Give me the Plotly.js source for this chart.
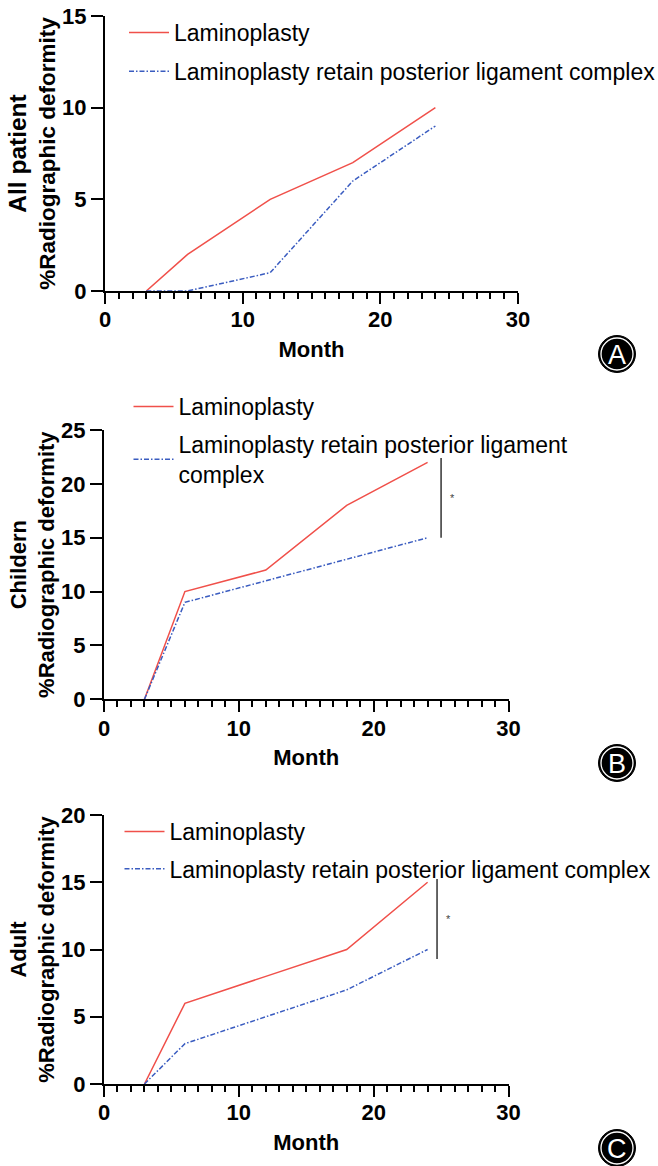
<!DOCTYPE html>
<html>
<head>
<meta charset="utf-8">
<script src="https://cdn.plot.ly/plotly-3.0.1.min.js"></script>
<style>
  html, body { margin: 0; padding: 0; background: #ffffff; }
  #chart { width: 658px; height: 1166px; }
</style>
</head>
<body>
<div id="chart"></div>
<script>
// ---- Data ----
const months = [3, 6, 12, 18, 24];
const seriesNames = ["Laminoplasty", "Laminoplasty retain posterior ligament complex"];
const allLaminoplasty = [0, 2, 5, 7, 10];
const allRetain = [0, 0, 1, 6, 9];
const childLaminoplasty = [0, 10, 12, 18, 22];
const childRetain = [0, 9, 11, 13, 15];
const adultLaminoplasty = [0, 6, 8, 10, 15];
const adultRetain = [0, 3, 5, 7, 10];
const groupTitles = ["All patient", "Childern", "Adult"];
const yMax = [15, 25, 20];
const panelLetters = ["A", "B", "C"];
// significance brackets (panel B, panel C)
const sigX = [25, 24.7];
const sigLow = [15, 9.3];
const sigHigh = [22.4, 15.25];

// ---- Layout helpers ----
const W = 658, H = 1166;
const px = v => v / W;
const py = v => 1 - v / H;

const FONT = "Liberation Sans, Arial, Helvetica, sans-serif";
const RED = "#f0504a";
const BLUE = "#3a5cc0";

const panels = [
  {lam: allLaminoplasty, ret: allRetain, xd: [105, 518], yd: [16, 291], tsize: 22.5, gsize: 24.5},
  {lam: childLaminoplasty, ret: childRetain, xd: [104, 508.5], yd: [430, 699.3], tsize: 22, gsize: 22},
  {lam: adultLaminoplasty, ret: adultRetain, xd: [104, 508.5], yd: [815, 1084], tsize: 22, gsize: 22}
];

const traces = [];
const layout = {
  width: W, height: H,
  margin: {l: 0, r: 0, t: 0, b: 0, autoexpand: false},
  paper_bgcolor: "#ffffff",
  plot_bgcolor: "#ffffff",
  font: {family: FONT, color: "#000000"},
  shapes: [],
  annotations: []
};

const legendPos = [
  {x: 124, y: 11, gap: 6},
  {x: 128.5, y: 385, gap: 5},
  {x: 119.5, y: 810, gap: 4.5}
];

panels.forEach((p, i) => {
  const sfx = i === 0 ? "" : String(i + 1);
  const legendId = "legend" + sfx;
  traces.push({
    x: months, y: p.lam, type: "scatter", mode: "lines",
    name: seriesNames[0], legendgroup: "lam" + i,
    xaxis: "x" + sfx, yaxis: "y" + sfx, legend: legendId,
    line: {color: RED, width: 1.5}
  });
  traces.push({
    x: months, y: p.ret, type: "scatter", mode: "lines",
    name: i === 1 ? "Laminoplasty retain posterior ligament<br>complex" : seriesNames[1],
    legendgroup: "ret" + i,
    xaxis: "x" + sfx, yaxis: "y" + sfx, legend: legendId,
    line: {color: BLUE, width: 1.5, dash: "5px,2px,1.5px,2px"}
  });

  layout["xaxis" + sfx] = {
    domain: [px(p.xd[0]), px(p.xd[1])],
    anchor: "y" + sfx,
    range: [0, 30],
    dtick: 10, tick0: 0,
    showline: true, linewidth: 2, linecolor: "#000",
    ticks: "outside", ticklen: 11, tickwidth: 2, tickcolor: "#000",
    ticklabelstandoff: -3,
    minor: {dtick: 1, ticks: "outside", ticklen: 6, tickwidth: 2, tickcolor: "#000", showgrid: false},
    showgrid: false, zeroline: false,
    tickfont: {family: FONT, size: 22, weight: "bold", color: "#000"},
    title: {text: "Month", standoff: 10, font: {family: FONT, size: 22, weight: "bold", color: "#000"}},
    fixedrange: true
  };
  const groupLabel = p.gsize !== p.tsize
    ? '<span style="font-size:' + p.gsize + 'px">' + groupTitles[i] + '</span>'
    : groupTitles[i];
  layout["yaxis" + sfx] = {
    domain: [py(p.yd[1]), py(p.yd[0])],
    anchor: "x" + sfx,
    range: [0, yMax[i]],
    dtick: 5, tick0: 0,
    showline: true, linewidth: 2, linecolor: "#000",
    ticks: "outside", ticklen: 12, tickwidth: 2, tickcolor: "#000",
    showgrid: false, zeroline: false,
    tickfont: {family: FONT, size: 22, weight: "bold", color: "#000"},
    title: {text: groupLabel + "<br>%Radiographic deformity", font: {family: FONT, size: p.tsize, weight: "bold", color: "#000"}},
    fixedrange: true
  };

  layout[legendId] = {
    x: px(legendPos[i].x), y: py(legendPos[i].y),
    xanchor: "left", yanchor: "top",
    bgcolor: "rgba(0,0,0,0)", borderwidth: 0,
    font: {family: FONT, size: 23, color: "#000"},
    itemwidth: 40,
    traceorder: "grouped",
    tracegroupgap: legendPos[i].gap
  };

  // panel letter badge
  const cy = [354, 763, 1148][i];
  layout.shapes.push({
    type: "circle", xref: "paper", yref: "paper",
    xsizemode: "pixel", ysizemode: "pixel",
    xanchor: px(617), yanchor: py(cy),
    x0: -18.5, x1: 18.5, y0: -18.5, y1: 18.5,
    fillcolor: "#000", line: {color: "#000", width: 1}
  });
  layout.shapes.push({
    type: "circle", xref: "paper", yref: "paper",
    xsizemode: "pixel", ysizemode: "pixel",
    xanchor: px(617), yanchor: py(cy),
    x0: -16, x1: 16, y0: -16, y1: 16,
    fillcolor: "rgba(0,0,0,0)", line: {color: "#fff", width: 1.3}
  });
  layout.annotations.push({
    text: panelLetters[i], xref: "paper", yref: "paper",
    x: px(617), y: py(cy + 1), xanchor: "center", yanchor: "middle",
    showarrow: false,
    font: {family: FONT, size: 27, color: "#fff"}
  });
});

// significance bars for panels B and C
sigX.forEach((sx, k) => {
  const sfx = String(k + 2);
  traces.push({
    x: [sx, sx], y: [sigLow[k], sigHigh[k]], type: "scatter", mode: "lines",
    xaxis: "x" + sfx, yaxis: "y" + sfx, showlegend: false, hoverinfo: "skip",
    line: {color: "#333", width: 1.5}
  });
  layout.annotations.push({
    text: "*", xref: "x" + sfx, yref: "y" + sfx,
    x: sx + 0.85, y: (sigLow[k] + sigHigh[k]) / 2,
    xanchor: "center", yanchor: "middle", showarrow: false,
    font: {family: FONT, size: 11, color: "#444"}
  });
});

Plotly.newPlot("chart", traces, layout, {staticPlot: true, displayModeBar: false});
</script>
</body>
</html>
